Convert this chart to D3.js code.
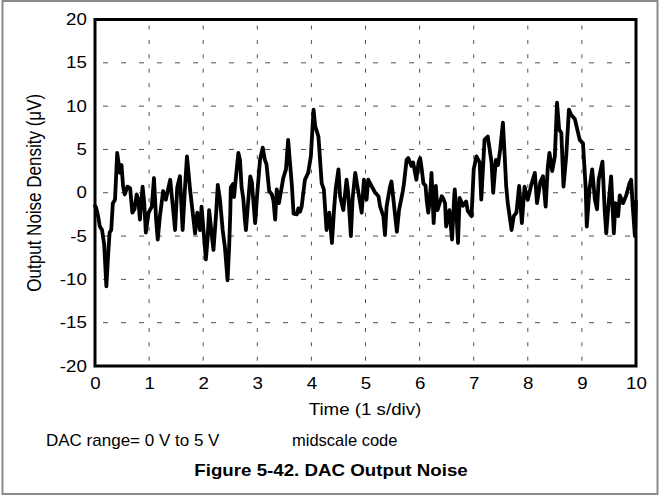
<!DOCTYPE html>
<html><head><meta charset="utf-8">
<script src="https://cdn.jsdelivr.net/npm/d3@7"></script>
<style>body{margin:0;background:#fff} svg{display:block;font-family:"Liberation Sans",Arial,sans-serif}</style>
</head><body><svg id="c" width="660" height="496"></svg>
<script>
const times = [0.00,0.02,0.06,0.09,0.13,0.17,0.21,0.24,0.27,0.30,0.33,0.37,0.41,0.46,0.49,0.52,0.55,0.60,0.65,0.69,0.73,0.77,0.80,0.83,0.88,0.91,0.94,0.99,
1.05,1.09,1.13,1.16,1.20,1.26,1.31,1.39,1.45,1.48,1.52,1.57,1.62,1.66,1.70,1.76,1.81,1.85,1.89,1.94,1.97,
2.01,2.05,2.08,2.11,2.16,2.19,2.24,2.27,2.31,2.36,2.40,2.43,2.45,2.48,2.50,2.51,2.55,2.57,2.60,2.65,2.68,2.71,2.74,2.77,2.79,2.82,2.87,2.90,2.93,2.96,2.99,
3.05,3.10,3.14,3.17,3.22,3.27,3.30,3.33,3.36,3.40,3.45,3.48,3.53,3.57,3.60,3.64,3.67,3.73,3.76,3.79,3.82,3.88,3.94,3.99,
4.04,4.07,4.13,4.19,4.23,4.28,4.33,4.38,4.42,4.45,4.50,4.53,4.59,4.65,4.68,4.73,4.76,4.81,4.87,4.93,4.97,
5.02,5.05,5.11,5.18,5.24,5.27,5.33,5.36,5.39,5.45,5.48,5.53,5.58,5.62,5.69,5.71,5.76,5.79,5.85,5.88,5.94,5.98,
6.01,6.04,6.07,6.11,6.13,6.16,6.19,6.22,6.26,6.30,6.33,6.41,6.44,6.47,6.49,6.55,6.60,6.64,6.65,6.68,6.71,6.74,6.80,6.86,6.89,6.96,
7.00,7.05,7.11,7.14,7.20,7.26,7.33,7.36,7.41,7.45,7.49,7.54,7.57,7.60,7.63,7.70,7.74,7.79,7.84,7.89,7.94,
8.00,8.06,8.13,8.17,8.23,8.28,8.33,8.37,8.40,8.45,8.50,8.54,8.58,8.62,8.66,8.71,8.76,8.80,8.87,8.96,
9.02,9.07,9.09,9.14,9.19,9.24,9.28,9.31,9.38,9.42,9.45,9.50,9.54,9.59,9.62,9.67,9.70,9.76,9.82,9.88,9.91,9.94,9.98,10.00];
const noise = [-1.5,-1.7,-2.8,-3.9,-4.3,-6.0,-10.8,-7.5,-4.6,-4.3,-1.2,-0.8,4.6,2.3,3.2,0.7,-0.2,0.7,0.5,-2.3,-1.9,-0.2,-0.8,-3.1,0.7,-1.2,-4.6,-2.3,
-1.6,1.7,-3.1,-5.4,-2.7,0.2,-0.8,1.5,-2.3,-4.3,0.6,1.9,-4.3,0.2,4.2,0.2,-2.5,-4.7,-2.3,-4.3,-1.6,
-4.7,-7.7,-5.4,-2.0,-5.0,-6.6,-2.3,0.9,-0.8,-4.3,-6.2,-8.5,-10.1,-6.2,-2.5,0.6,1.0,-0.5,1.5,4.6,3.8,0.6,-0.6,-3.1,-4.3,-1.9,1.9,1.2,-1.2,-3.5,-0.8,
3.8,5.2,3.8,3.3,0.2,-0.2,-1.0,-3.1,0.4,-1.2,0.6,1.7,2.7,6.1,3.8,0.8,-2.4,-2.5,-1.8,-2.2,-1.6,1.5,2.3,4.2,
9.6,7.7,6.5,1.1,0.4,-4.3,-2.3,-5.8,-1.8,0.5,2.7,-0.4,-2.0,1.5,0.0,-5.0,-0.8,2.3,0.0,-2.3,1.5,
-0.8,1.5,0.8,0.0,-0.4,-1.6,-2.7,-4.9,-1.6,0.6,1.3,-1.6,-4.5,-2.0,0.2,1.0,3.8,4.0,3.1,3.5,1.5,3.5,
4.0,2.7,1.1,0.8,-0.8,-2.3,-0.8,2.3,-3.5,0.8,-2.0,-0.4,-0.7,-1.2,-3.9,-2.0,-5.4,-0.4,0.4,-2.3,-5.8,-0.6,-1.5,-1.0,-2.1,-2.7,
2.7,4.2,3.5,-0.8,6.1,6.5,3.5,0.0,3.8,3.2,5.0,8.1,4.6,0.8,-1.2,-4.3,-2.7,-2.3,0.8,-3.5,0.7,
-0.8,0.8,2.3,-1.2,1.2,1.9,-1.6,3.0,4.6,2.5,4.2,10.4,7.3,6.9,0.7,4.2,9.6,9.0,8.5,6.1,
5.7,0.6,-3.9,0.4,2.7,-0.8,-1.9,1.5,3.6,-1.9,-4.7,-0.8,1.9,-4.7,-1.2,-2.7,-0.3,-1.2,-0.3,1.1,1.5,-1.6,-5.0,-1.0];
const xTicks = [0,1,2,3,4,5,6,7,8,9,10];
const yTicks = [-20,-15,-10,-5,0,5,10,15,20];
const xTitle = "Time (1 s/div)";
const yTitle = "Output Noise Density (\u03BCV)";
const note1 = "DAC range= 0 V to 5 V";
const note2 = "midscale code";
const caption = "Figure 5-42. DAC Output Noise";

const svg = d3.select("#c");
const L = 95, R = 636, T = 19.5, B = 366;
const SX = 1.17;
const x = d3.scaleLinear().domain([0,10]).range([L,R]);
const y = d3.scaleLinear().domain([-20,20]).range([B,T]);
const FONT = "Liberation Sans, Arial, sans-serif";

svg.append("rect").attr("x",2.5).attr("y",1).attr("width",655).attr("height",493)
  .attr("fill","none").attr("stroke","#8a8a8a").attr("stroke-width",2);

const g = svg.append("g");
yTicks.filter(v=>v>-20&&v<20).forEach(v=>{
  g.append("line").attr("x1",L).attr("x2",R).attr("y1",y(v)).attr("y2",y(v))
   .attr("stroke","#505050").attr("stroke-width",1).attr("stroke-dasharray","5,13").attr("stroke-dashoffset",-8);
});
xTicks.filter(v=>v>0&&v<10).forEach(v=>{
  g.append("line").attr("x1",x(v)).attr("x2",x(v)).attr("y1",T).attr("y2",B)
   .attr("stroke","#505050").attr("stroke-width",1).attr("stroke-dasharray","4,10.4").attr("stroke-dashoffset",-6);
});

const pts = times.map((t,i)=>[t,noise[i]]);
svg.append("path").datum(pts)
  .attr("d", d3.line().x(d=>x(d[0])).y(d=>y(d[1])))
  .attr("fill","none").attr("stroke","#000").attr("stroke-width",3.8)
  .attr("stroke-linejoin","round").attr("stroke-linecap","round");

svg.append("rect").attr("x",L).attr("y",T).attr("width",R-L).attr("height",B-T)
  .attr("fill","none").attr("stroke","#000").attr("stroke-width",3);

const fmt = d=>String(d);
const xa = svg.append("g").attr("transform",`translate(0,${B})`)
  .call(d3.axisBottom(x).tickValues(xTicks).tickSize(0).tickPadding(12).tickFormat(fmt));
xa.select(".domain").remove();
xa.selectAll("text").attr("font-size",16).attr("font-family",FONT).attr("fill","#000")
  .attr("transform",`scale(${SX},1)`);
const ya = svg.append("g").attr("transform",`translate(${L},0)`)
  .call(d3.axisLeft(y).tickValues(yTicks).tickSize(0).tickPadding(7).tickFormat(fmt));
ya.select(".domain").remove();
ya.selectAll("text").attr("font-size",16).attr("font-family",FONT).attr("fill","#000")
  .attr("transform",`scale(${SX},1)`);

function stretched(tx, ty, str, size, anchor, weight){
  svg.append("text").attr("transform",`translate(${tx},${ty}) scale(${SX},1)`)
    .attr("text-anchor",anchor).attr("font-size",size).attr("font-weight",weight||"normal").text(str);
}
stretched(365,415,xTitle,16,"middle");
svg.append("text").attr("transform",`translate(41,${(T+B)/2}) scale(${SX},1) rotate(-90)`).attr("text-anchor","middle")
  .attr("font-size",17).text(yTitle);
svg.append("text").attr("x",46).attr("y",446).attr("font-size",17).text(note1);
svg.append("text").attr("x",292).attr("y",446).attr("font-size",16.5).text(note2);
stretched(331,476,caption,16,"middle","bold");
</script>
</body></html>
